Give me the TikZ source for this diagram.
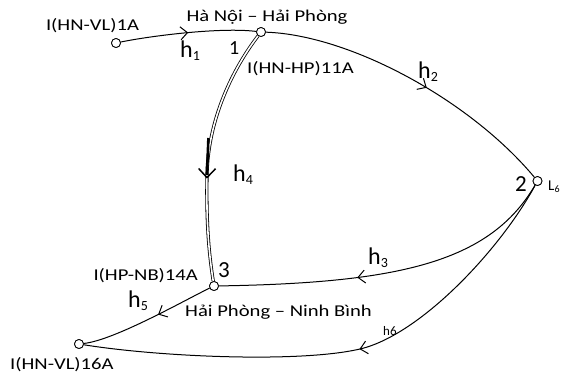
\documentclass[tikz,border=0pt]{standalone}
\usepackage{fontspec}
\setmainfont{Carlito}
\newfontfamily\lblfont{Carlito}[FakeStretch=1.25]
\usetikzlibrary{arrows.meta,decorations.markings}
\newcommand\hsub[1]{h\raisebox{-3.5pt}{\fontsize{14}{14}\selectfont #1}}
\begin{document}
\begin{tikzpicture}[x=1pt,y=-1pt,
  vert/.style={circle,draw,fill=white,line width=0.8pt,minimum size=9pt,inner sep=0pt},
  lbl/.style={font=\lblfont\fontsize{16.5}{18}\selectfont,inner sep=0pt},
  hl/.style={font=\fontsize{24}{26}\selectfont,inner sep=0pt},
  num/.style={font=\fontsize{23}{25}\selectfont,inner sep=0pt},
  edge/.style={line width=1pt},
  midarrow/.style={postaction={decorate},decoration={markings,mark=at position #1 with {\arrow{Straight Barb[length=7pt,width=13pt,line width=1pt]}}}},
  bigarrow/.style={postaction={decorate},decoration={markings,mark=at position #1 with {\arrow{Straight Barb[length=9pt,width=17pt,line width=1.5pt]}}}},
]
\useasboundingbox (0,0) rectangle (566,381);

% vertices
\node[vert] (n1A) at (116,43) {};
\node[vert] (n1) at (261,32) {};
\node[vert] (L6) at (537.5,181) {};
\node[vert] (n3) at (214,286) {};
\node[vert] (n16) at (79,344) {};

% edges
\draw[edge,midarrow=0.5] (n1A) .. controls (150,36) and (220,27) .. (n1);
\draw[edge,midarrow=0.55] (n1) .. controls (350,35) and (470,100) .. (L6);
\draw[edge,midarrow=0.6] (L6) .. controls (490,262) and (400,283) .. (n3);
\draw[edge,midarrow=0.42] (n3) .. controls (185,300) and (115,340) .. (n16);
\coordinate (k6) at (360,349);
\draw[edge,midarrow=0.47] (L6) .. controls (500,250) and (420,335) .. (k6)
   .. controls (300,363) and (160,357) .. (n16);
\coordinate (k4) at (207,175);
\draw[line width=0.8pt,double=white,double distance=1.6pt]
   (n1) .. controls (232,70) and (208,120) .. (k4)
   .. controls (206,230) and (210,260) .. (n3);
\draw[line width=2.6pt] (208.4,138) .. controls (208,150) and (207.4,162) .. (k4);
\path[bigarrow=0.6] (n1) .. controls (232,70) and (208,120) .. (k4)
   .. controls (206,230) and (210,260) .. (n3);

% redraw vertices on top
\foreach \v in {n1A,n1,L6,n3,n16} \node[vert] at (\v) {};

% labels
\node[lbl,anchor=base] (t1A) at (92.5,30) {I(HN-VL)1A};
\node[lbl,anchor=base] (tHN) at (267,21) {Hà Nội – Hải Phòng};
\node[lbl,anchor=base west] (t11A) at (247,73) {I(HN-HP)11A};
\node[inner sep=0pt,font=\fontsize{20}{22}\selectfont,anchor=base west] (d1) at (229,54) {1};
\node[hl,anchor=base west] (lh1) at (180,57) {\hsub{1}};
\node[hl,anchor=base west] (lh2) at (418,78) {\hsub{2}};
\node[num,anchor=base east] (d2) at (527,191) {2};
\node[inner sep=0pt,font=\fontsize{15}{16}\selectfont,anchor=base west] (tL6) at (548,190) {L\raisebox{-2pt}{\fontsize{10}{10}\selectfont 6}};
\node[hl,anchor=base west] (lh3) at (368,264) {\hsub{3}};
\node[hl,anchor=base west] (lh4) at (233,181) {\hsub{4}};
\node[num,anchor=base west] (d3) at (218,277) {3};
\node[lbl,anchor=base east] (t14A) at (198,280) {I(HP-NB)14A};
\node[lbl,anchor=base west] (tHP) at (185,316) {Hải Phòng – Ninh Bình};
\node[hl,anchor=base west] (lh5) at (128,307) {\hsub{5}};
\node[inner sep=0pt,font=\fontsize{13}{14}\selectfont,anchor=base west] (lh6) at (383,335) {h6};
\node[lbl,anchor=base west] (t16A) at (10,369) {I(HN-VL)16A};
\end{tikzpicture}
\end{document}
